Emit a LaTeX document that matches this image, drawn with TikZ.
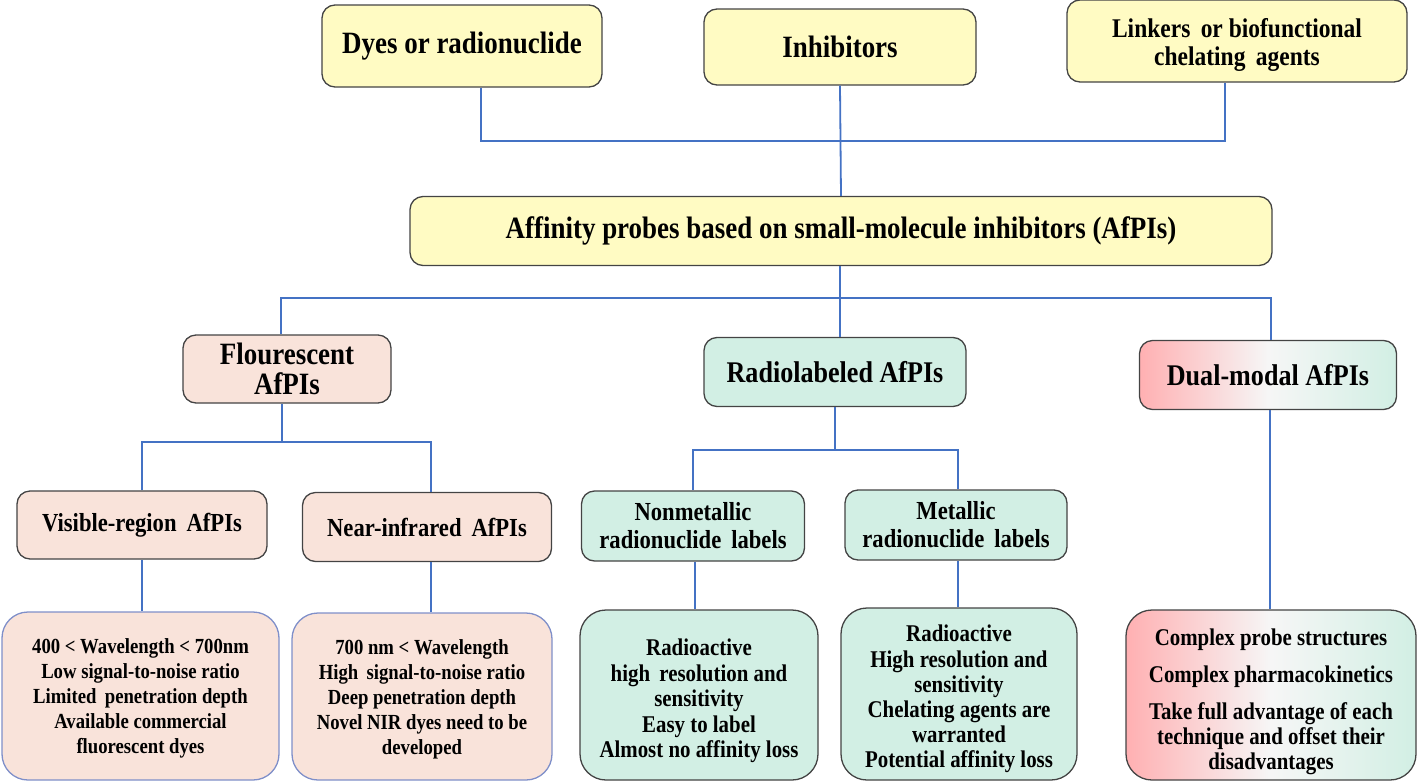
\documentclass[tikz,border=0pt]{standalone}
\usepackage{fontspec}
\setmainfont{Liberation Serif}[FakeStretch=0.87]
\definecolor{ylw}{HTML}{FFFBC3}
\definecolor{peach}{HTML}{F9E3DA}
\definecolor{mint}{HTML}{D2EFE4}
\definecolor{pinkred}{HTML}{FFB0B2}
\definecolor{conn}{HTML}{4472C4}
\definecolor{bord}{HTML}{444444}
\definecolor{bluebord}{HTML}{7F8FC9}
\newcommand{\lift}[1]{\rule{0pt}{#1pt}}
\tikzset{
  box/.style={draw=bord, line width=1.3pt, rounded corners=13pt, align=center, inner sep=0pt},
  fsz/.style 2 args={font={\bfseries\fontsize{#1pt}{#2pt}\selectfont}},
  ybox/.style={box, fill=ylw},
  pbox/.style={box, fill=peach},
  mbox/.style={box, fill=mint},
  gbox/.style={box, left color=pinkred, right color=mint, middle color=white!93!gray},
  dbox/.style={rounded corners=26pt},
  link/.style={draw=conn, line width=1.8pt},
}
\begin{document}
\begin{tikzpicture}[x=1pt,y=-1pt]
\useasboundingbox (0,0) rectangle (1417,782);
% top row
\node[ybox, fsz={31}{33}, minimum width=280pt, minimum height=82pt] (dyes) at (462,46) {Dyes or radionuclide};
\node[ybox, fsz={31}{33}, minimum width=272pt, minimum height=76pt] (inh) at (840,47) {Inhibitors};
\node[ybox, fsz={27}{28}, minimum width=340pt, minimum height=82pt] (link) at (1237,41) {\lift{26}Linkers\, or biofunctional\\chelating\, agents};
% main
\node[ybox, fsz={31}{33}, minimum width=862pt, minimum height=69pt] (main) at (841,231) {Affinity probes based on small-molecule inhibitors (AfPIs)};
% second level
\node[pbox, fsz={31}{30}, minimum width=208pt, minimum height=68pt] (fl) at (287,369) {Flourescent\\AfPIs};
\node[mbox, fsz={30}{32}, minimum width=262pt, minimum height=69pt] (rad) at (835,372) {Radiolabeled AfPIs};
\node[gbox, fsz={30}{32}, minimum width=257pt, minimum height=69pt] (dual) at (1268,375) {Dual-modal AfPIs};
% third level
\node[pbox, fsz={26}{28}, minimum width=250pt, minimum height=68pt] (vis) at (142,525) {Visible-region\, AfPIs};
\node[pbox, fsz={26}{28}, minimum width=249pt, minimum height=69pt] (nir) at (427,527) {Near-infrared\, AfPIs};
\node[mbox, fsz={26}{28}, minimum width=223pt, minimum height=70pt] (nonm) at (693,526) {Nonmetallic\\radionuclide\, labels};
\node[mbox, fsz={26}{28}, minimum width=222pt, minimum height=70pt] (met) at (956,525) {Metallic\\radionuclide\, labels};
% detail boxes
\node[pbox, dbox, draw=bluebord, fsz={21.5}{25}, minimum width=277pt, minimum height=168pt] (visd) at (140.5,696) {\lift{20}400 < Wavelength < 700nm\\Low signal-to-noise ratio\\Limited\, penetration depth\\Available commercial\\fluorescent dyes};
\node[pbox, dbox, draw=bluebord, fsz={21.5}{25}, minimum width=260pt, minimum height=167pt] (nird) at (422,696.5) {\lift{20}700 nm < Wavelength\\High\, signal-to-noise ratio\\Deep penetration depth\\Novel NIR dyes need to be\\developed};
\node[mbox, dbox, fsz={24}{25.5}, minimum width=238pt, minimum height=170pt] (nonmd) at (699,695) {\lift{29}Radioactive\\high\, resolution and\\sensitivity\\Easy to label\\Almost no affinity loss};
\node[mbox, dbox, fsz={24}{25.2}, minimum width=236pt, minimum height=172pt] (metd) at (959,694) {\lift{27}Radioactive\\High resolution and\\sensitivity\\Chelating agents are\\warranted\\Potential affinity loss};
\node[gbox, dbox, fsz={24}{25}, minimum width=290pt, minimum height=170pt] (duald) at (1271,695) {\lift{30}Complex probe structures\\[12pt]Complex pharmacokinetics\\[12pt]Take full advantage of each\\technique and offset their\\disadvantages};
% connectors
\coordinate (j1) at (840,141);
\coordinate (j2) at (840,298);
\coordinate (j3) at (282,442);
\coordinate (j4) at (835,450);
\draw[link] ([xshift=19pt]dyes.south) |- (j1);
\draw[link] ([xshift=-12pt]link.south) |- (j1);
\draw[link] (inh.south) -- (main.north);
\draw[link] ([xshift=-1pt]main.south) -- (j2);
\draw[link] ([xshift=-6pt]fl.north) |- (j2);
\draw[link] ([xshift=3pt]dual.north) |- (j2);
\draw[link] ([xshift=5pt]rad.north) -- (j2);
\draw[link] ([xshift=-5pt]fl.south) -- (j3);
\draw[link] (vis.north) |- (j3);
\draw[link] ([xshift=4pt]nir.north) |- (j3);
\draw[link] (rad.south) -- (j4);
\draw[link] (nonm.north) |- (j4);
\draw[link] ([xshift=2pt]met.north) |- (j4);
\draw[link] (vis.south) -- (vis.south |- visd.north);
\draw[link] ([xshift=4pt]nir.south) -- ([xshift=4pt]nir.south |- nird.north);
\draw[link] ([xshift=2pt]nonm.south) -- ([xshift=2pt]nonm.south |- nonmd.north);
\draw[link] ([xshift=2pt]met.south) -- ([xshift=2pt]met.south |- metd.north);
\draw[link] ([xshift=2pt]dual.south) -- ([xshift=2pt]dual.south |- duald.north);
\end{tikzpicture}
\end{document}
